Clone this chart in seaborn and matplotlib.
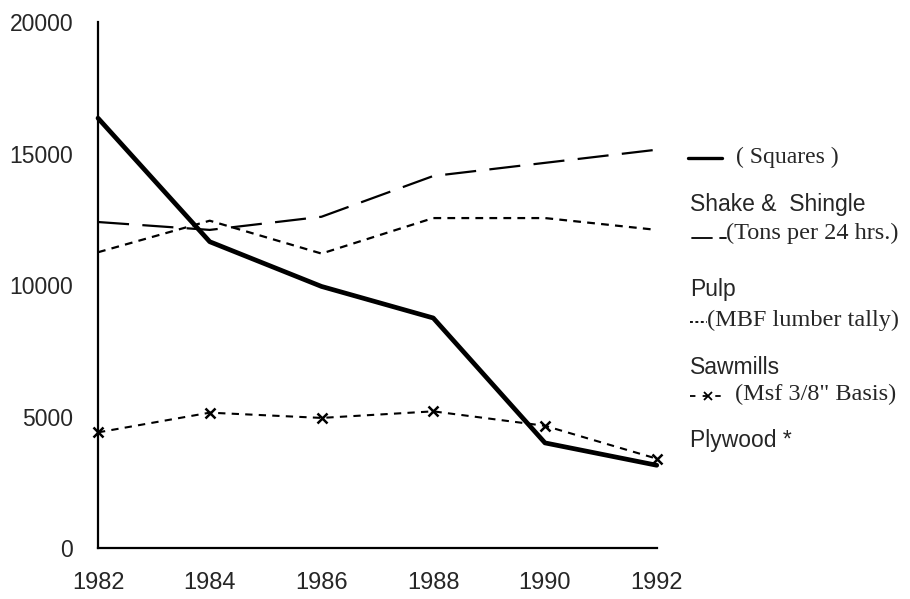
import matplotlib
matplotlib.use("Agg")
import matplotlib.pyplot as plt
from matplotlib.lines import Line2D
import seaborn as sns
import pandas as pd

OUTPUT_FILE = "out.png"

sns.set_style("white")
plt.rcParams["font.family"] = ["Liberation Sans", "DejaVu Sans"]

# values
years = [1982, 1984, 1986, 1988, 1990, 1992]
shake = [16350, 11650, 9950, 8750, 4000, 3150]
pulp = [12400, 12100, 12600, 14150, 14650, 15150]
sawmills = [11250, 12450, 11200, 12550, 12550, 12100]
plywood = [4400, 5150, 4950, 5200, 4650, 3400]

y_ticks = [0, 5000, 10000, 15000, 20000]

df = pd.DataFrame({"year": years, "shake": shake, "pulp": pulp,
                   "sawmills": sawmills, "plywood": plywood})

fig = plt.figure(figsize=(9.1, 5.99), dpi=100)
ax = fig.add_axes([0.1077, 0.085, 0.614, 0.878])

# Shake & Shingle - thick solid
sns.lineplot(data=df, x="year", y="shake", color="black", linewidth=3.4,
             ax=ax, legend=False)
# Pulp - long dashes
sns.lineplot(data=df, x="year", y="pulp", color="black", linewidth=1.6,
             linestyle=(0, (14, 6)), ax=ax, legend=False)
# Sawmills - short dashes
sns.lineplot(data=df, x="year", y="sawmills", color="black", linewidth=1.6,
             linestyle=(0, (3.5, 2.8)), ax=ax, legend=False)
# Plywood - short dashes with x markers
sns.lineplot(data=df, x="year", y="plywood", color="black", linewidth=1.5,
             linestyle=(0, (3.5, 3)), marker="x", markersize=7,
             markeredgewidth=1.8, markeredgecolor="black",
             markerfacecolor="black", ax=ax, legend=False)

ax.set_xlim(1982, 1992)
ax.set_ylim(0, 20000)
ax.set_xticks(years)
ax.set_xticklabels([str(y) for y in years], fontsize=17)
ax.set_yticks(y_ticks)
ax.set_yticklabels([str(v) for v in y_ticks], fontsize=16.5)
ax.tick_params(axis="x", length=0, pad=17)
ax.tick_params(axis="y", length=0, pad=18)
ax.set_xlabel("")
ax.set_ylabel("")
for side in ["top", "right"]:
    ax.spines[side].set_visible(False)
for side in ["left", "bottom"]:
    ax.spines[side].set_color("black")
    ax.spines[side].set_linewidth(1.6)
for ln in ax.lines:
    ln.set_clip_on(False)

# hand-made legend on the right
serif = ["Liberation Serif", "DejaVu Serif"]


def fy(py):
    return 1 - py / 599


def fx(px):
    return px / 910


fig.add_artist(Line2D([fx(688), fx(722)], [fy(158), fy(158)], color="black",
                      linewidth=2.4, transform=fig.transFigure))
fig.text(fx(736), fy(157), "( Squares )", family=serif, fontsize=17, va="center")
fig.text(fx(690), fy(204), "Shake &  Shingle", fontsize=16.5, va="center")

fig.add_artist(Line2D([fx(692), fx(712)], [fy(238), fy(238)], color="black",
                      linewidth=1.3, transform=fig.transFigure))
fig.add_artist(Line2D([fx(720), fx(726)], [fy(238), fy(238)], color="black",
                      linewidth=1.3, transform=fig.transFigure))
fig.text(fx(726), fy(233), "(Tons per 24 hrs.)", family=serif, fontsize=17.5, va="center")
fig.text(fx(690), fy(289), "Pulp", fontsize=16.5, va="center")

fig.add_artist(Line2D([fx(690), fx(707)], [fy(322), fy(322)], color="black",
                      linewidth=1.3, linestyle=(0, (1.6, 1.4)), transform=fig.transFigure))
fig.text(fx(707), fy(320), "(MBF lumber tally)", family=serif, fontsize=17.5, va="center")
fig.text(fx(690), fy(367), "Sawmills", fontsize=16.5, va="center")

fig.add_artist(Line2D([fx(690), fx(726)], [fy(396), fy(396)], color="black",
                      linewidth=1.3, linestyle=(0, (3, 4)), transform=fig.transFigure))
fig.add_artist(Line2D([fx(708)], [fy(396)], color="black", marker="x",
                      markersize=6, markeredgewidth=1.3, linestyle="none",
                      transform=fig.transFigure))
fig.text(fx(735), fy(394), "(Msf 3/8\" Basis)", family=serif, fontsize=17.5, va="center")
fig.text(fx(690), fy(441), "Plywood *", fontsize=16.5, va="center")

fig.savefig(OUTPUT_FILE, dpi=100)
plt.close(fig)
